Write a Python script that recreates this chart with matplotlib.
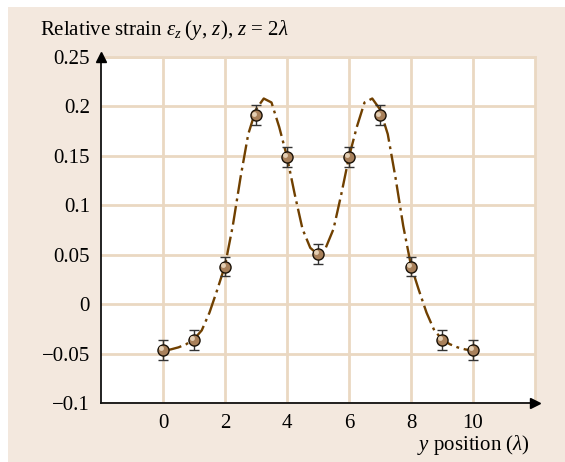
import matplotlib
matplotlib.use("Agg")
import matplotlib.pyplot as plt
from matplotlib.patches import Rectangle

plt.rcParams['font.family'] = ['Liberation Serif', 'DejaVu Serif']
plt.rcParams['mathtext.fontset'] = 'custom'
plt.rcParams['mathtext.rm'] = 'Liberation Serif'
plt.rcParams['mathtext.it'] = 'Liberation Serif:italic'

# measured points
y_pos = [0, 1, 2, 3, 4, 5, 6, 7, 8, 9, 10]
strain = [-0.046, -0.036, 0.038, 0.191, 0.149, 0.051, 0.149, 0.191, 0.038, -0.036, -0.046]
strain_err = [0.01, 0.01, 0.01, 0.01, 0.01, 0.01, 0.01, 0.01, 0.01, 0.01, 0.01]

# fitted curve
curve_y = [0.0, 0.25, 0.5, 0.75, 1.0, 1.25, 1.5, 1.75, 2.0, 2.25, 2.5, 2.75, 3.0, 3.25, 3.5,
           3.75, 4.0, 4.25, 4.5, 4.75, 5.0, 5.25, 5.5, 5.75, 6.0, 6.25, 6.5, 6.75, 7.0,
           7.25, 7.5, 7.75, 8.0, 8.25, 8.5, 8.75, 9.0, 9.25, 9.5, 9.75, 10.0]
curve_v = [-0.047, -0.0458, -0.0437, -0.0405, -0.0355, -0.0265, -0.0085, 0.0145, 0.039, 0.079,
           0.128, 0.172, 0.197, 0.208, 0.204, 0.179, 0.149, 0.111, 0.076, 0.057, 0.050,
           0.057, 0.076, 0.111, 0.149, 0.179, 0.204, 0.208, 0.197, 0.172, 0.128, 0.079,
           0.039, 0.0145, -0.0085, -0.0265, -0.0355, -0.0405, -0.0437, -0.0458, -0.047]

x_ticks = [0, 2, 4, 6, 8, 10]
y_ticks = [-0.1, -0.05, 0, 0.05, 0.1, 0.15, 0.2, 0.25]
y_labels = ['\u22120.1', '\u22120.05', '0', '0.05', '0.1', '0.15', '0.2', '0.25']

W, H = 565, 462
BEIGE = '#f3e8de'
GRID = '#ead8c2'

fig = plt.figure(figsize=(W / 100, H / 100), dpi=100, facecolor='white')
bg = Rectangle((8 / W, 0), 1 - 8 / W, 1 - 7 / H, transform=fig.transFigure,
               facecolor=BEIGE, edgecolor='none', zorder=-10)
fig.patches.append(bg)

ax = fig.add_axes([101 / W, 1 - 403 / H, 434 / W, 346 / H])
ax.set_zorder(5)
ax.set_facecolor('white')
ax.set_xlim(-2, 12)
ax.set_ylim(-0.1, 0.25)

ax.set_xticks(x_ticks)
ax.set_yticks(y_ticks)
ax.set_yticklabels(y_labels)
ax.tick_params(length=0, labelsize=15, pad=8)
ax.grid(True, color=GRID, linewidth=2)
ax.set_axisbelow(True)

for s in ['top', 'right']:
    ax.spines[s].set_color(GRID)
    ax.spines[s].set_linewidth(2)
for s in ['left', 'bottom']:
    ax.spines[s].set_color('#111111')
    ax.spines[s].set_linewidth(1.3)

# arrows
ax.plot([0], [1.0], marker='^', color='black', markersize=7, transform=ax.transAxes,
        clip_on=False, zorder=10)
ax.plot([1.0], [0], marker='>', color='black', markersize=7, transform=ax.transAxes,
        clip_on=False, zorder=10)

# curve
ax.plot(curve_y, curve_v, color='#704000', linewidth=1.7, dashes=(8, 2, 1.2, 2), zorder=3)

# error bars + points
ax.errorbar(y_pos, strain, yerr=strain_err, fmt='none', ecolor='#333333', elinewidth=1,
            capsize=3.5, capthick=1, zorder=4)
ax.plot(y_pos, strain, 'o', markersize=8, markerfacecolor='#a8805a',
        markeredgecolor='#1a1208', markeredgewidth=1, zorder=5)
ax.plot([v - 0.06 for v in y_pos], [v + 0.0018 for v in strain], 'o', markersize=3.5,
        markerfacecolor='#e4cfb4', markeredgecolor='none', zorder=6)

fig.text(40 / W, 1 - 30 / H,
         r'Relative strain $\varepsilon_z\;(y,\,z)$, $z$ = 2$\lambda$',
         fontsize=15, ha='left', va='center')
fig.text(530 / W, 1 - 445 / H, r'$y$ position ($\lambda$)', fontsize=15,
         ha='right', va='center')

fig.savefig('out.png', dpi=100, facecolor='white')
